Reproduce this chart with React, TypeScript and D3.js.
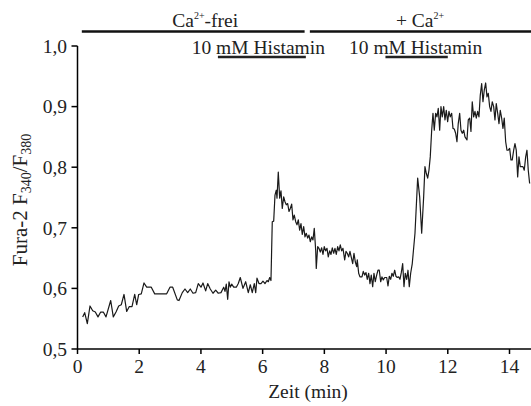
import React from "react";
import * as d3 from "d3";

// Fura-2 ratio trace (time in min, ratio F340/F380)
const times = [
  0.168, 0.233, 0.318, 0.405, 0.493, 0.577, 0.664, 0.752, 0.836, 0.924,
  1.076, 1.160, 1.248, 1.335, 1.419, 1.507, 1.594, 1.679, 1.766, 1.854,
  1.918, 1.983, 2.067, 2.155, 2.242, 2.391, 2.502, 2.890, 2.997, 3.085,
  3.234, 3.289, 3.396, 3.483, 3.571, 3.655, 3.743, 3.830, 3.914, 4.002,
  4.067, 4.154, 4.219, 4.303, 4.391, 4.478, 4.563, 4.650, 4.738, 4.780,
  4.822, 4.867, 4.909, 4.951, 4.997, 5.062, 5.146, 5.211, 5.275, 5.363,
  5.450, 5.535, 5.600, 5.664, 5.729, 5.775, 5.817, 5.881, 5.946, 6.011,
  6.076, 6.141, 6.183, 6.228, 6.270, 6.312, 6.358, 6.400, 6.442, 6.465,
  6.507, 6.552, 6.594, 6.636, 6.682, 6.724, 6.766, 6.811, 6.854, 6.896,
  6.941, 6.983, 7.025, 7.071, 7.113, 7.155, 7.200, 7.242, 7.285, 7.330,
  7.372, 7.414, 7.460, 7.502, 7.544, 7.589, 7.631, 7.673, 7.719, 7.738,
  7.784, 7.826, 7.868, 7.913, 7.955, 7.997, 8.043, 8.085, 8.127, 8.172,
  8.215, 8.257, 8.302, 8.344, 8.386, 8.432, 8.474, 8.516, 8.561, 8.603,
  8.659, 8.701, 8.743, 8.788, 8.830, 8.873, 8.918, 8.960, 9.002, 9.047,
  9.067, 9.112, 9.154, 9.219, 9.261, 9.307, 9.349, 9.391, 9.436, 9.478,
  9.520, 9.566, 9.608, 9.650, 9.695, 9.738, 9.780, 9.825, 9.867, 9.909,
  9.955, 10.020, 10.062, 10.104, 10.149, 10.191, 10.233, 10.279, 10.321, 10.363,
  10.408, 10.450, 10.493, 10.538, 10.580, 10.622, 10.668, 10.710, 10.752, 10.797,
  10.849, 10.937, 11.024, 11.089, 11.154, 11.218, 11.260, 11.303, 11.348, 11.390,
  11.432, 11.478, 11.520, 11.562, 11.607, 11.649, 11.692, 11.737, 11.779, 11.821,
  11.867, 11.909, 11.951, 11.996, 12.038, 12.080, 12.126, 12.168, 12.210, 12.255,
  12.297, 12.339, 12.385, 12.427, 12.469, 12.515, 12.557, 12.622, 12.664, 12.709,
  12.751, 12.793, 12.839, 12.881, 12.923, 12.968, 13.010, 13.053, 13.098, 13.140,
  13.182, 13.228, 13.270, 13.312, 13.357, 13.399, 13.441, 13.487, 13.529, 13.571,
  13.617, 13.659, 13.701, 13.746, 13.788, 13.830, 13.876, 13.918, 13.960, 14.005,
  14.047, 14.089, 14.135, 14.177, 14.219, 14.265, 14.307, 14.349, 14.394, 14.436,
  14.478, 14.524, 14.566, 14.608, 14.653,
];

const ratio = [
  0.553, 0.560, 0.542, 0.571, 0.563, 0.561, 0.553, 0.561, 0.561, 0.553,
  0.580, 0.553, 0.561, 0.571, 0.573, 0.590, 0.562, 0.570, 0.570, 0.590,
  0.573, 0.590, 0.591, 0.609, 0.602, 0.602, 0.591, 0.591, 0.602, 0.602,
  0.581, 0.580, 0.593, 0.599, 0.593, 0.599, 0.592, 0.593, 0.608, 0.602,
  0.609, 0.596, 0.608, 0.599, 0.592, 0.597, 0.592, 0.593, 0.602, 0.595,
  0.607, 0.582, 0.611, 0.602, 0.607, 0.602, 0.602, 0.608, 0.618, 0.600,
  0.611, 0.593, 0.606, 0.593, 0.608, 0.593, 0.617, 0.608, 0.608, 0.612,
  0.608, 0.613, 0.611, 0.618, 0.613, 0.710, 0.711, 0.754, 0.762, 0.749,
  0.792, 0.749, 0.761, 0.732, 0.751, 0.743, 0.738, 0.740, 0.727, 0.732,
  0.739, 0.713, 0.721, 0.710, 0.705, 0.713, 0.696, 0.707, 0.689, 0.702,
  0.685, 0.691, 0.683, 0.688, 0.677, 0.685, 0.680, 0.699, 0.663, 0.633,
  0.669, 0.666, 0.660, 0.667, 0.656, 0.669, 0.662, 0.666, 0.652, 0.662,
  0.656, 0.667, 0.658, 0.666, 0.656, 0.669, 0.662, 0.672, 0.662, 0.666,
  0.647, 0.661, 0.658, 0.652, 0.661, 0.651, 0.641, 0.658, 0.644, 0.636,
  0.647, 0.625, 0.619, 0.619, 0.628, 0.622, 0.626, 0.615, 0.625, 0.608,
  0.622, 0.603, 0.625, 0.611, 0.622, 0.630, 0.630, 0.611, 0.619, 0.614,
  0.618, 0.618, 0.604, 0.620, 0.615, 0.625, 0.620, 0.630, 0.620, 0.618,
  0.619, 0.615, 0.626, 0.641, 0.603, 0.625, 0.615, 0.630, 0.603, 0.625,
  0.641, 0.691, 0.782, 0.751, 0.691, 0.751, 0.801, 0.790, 0.782, 0.795,
  0.817, 0.861, 0.889, 0.861, 0.889, 0.883, 0.897, 0.861, 0.900, 0.883,
  0.900, 0.878, 0.894, 0.875, 0.892, 0.883, 0.889, 0.864, 0.863, 0.856,
  0.842, 0.872, 0.889, 0.861, 0.856, 0.861, 0.850, 0.845, 0.878, 0.881,
  0.859, 0.908, 0.883, 0.892, 0.881, 0.892, 0.883, 0.919, 0.938, 0.908,
  0.927, 0.939, 0.916, 0.922, 0.900, 0.892, 0.908, 0.900, 0.878, 0.905,
  0.889, 0.872, 0.894, 0.881, 0.864, 0.881, 0.842, 0.828, 0.828, 0.831,
  0.812, 0.812, 0.828, 0.839, 0.828, 0.784, 0.817, 0.801, 0.801, 0.801,
  0.795, 0.817, 0.828, 0.795, 0.773,
];

const xTicks = [0, 2, 4, 6, 8, 10, 12, 14];
const xTickLabels = ["0", "2", "4", "6", "8", "10", "12", "14"];
const yTicks = [0.5, 0.6, 0.7, 0.8, 0.9, 1.0];
const yTickLabels = ["0,5", "0,6", "0,7", "0,8", "0,9", "1,0"];

// Phases (top bars): Ca2+-free, then + Ca2+
const phaseStart = [0.14, 7.53];
const phaseEnd = [7.36, 14.8];
const phaseLabelAt = [4.14, 11.1];
const phaseLabelMain = ["Ca", "+ Ca"];
const phaseLabelSup = ["2+", "2+"];
const phaseLabelTail = ["-frei", ""];

// Histamine applications
const histStart = [4.55, 9.98];
const histEnd = [7.4, 12.0];
const histLabelAt = [3.7, 8.8];
const histLabel = ["10 mM Histamin", "10 mM Histamin"];

const W = 531;
const H = 406;
const FONT = "Liberation Serif, Times New Roman, serif";
const FS = 19.5;

export default function App() {
  const x = d3.scaleLinear().domain([0, 14]).range([77.5, 509.5]);
  const y = d3.scaleLinear().domain([0.5, 1.0]).range([349, 46]);
  const pts = times.map((t, i) => [t, ratio[i]] as [number, number]);
  const line = d3
    .line<[number, number]>()
    .x((d) => x(d[0]))
    .y((d) => y(d[1]));

  const x0 = x(0);
  const yBase = y(0.5);
  const ts = { fontFamily: FONT };

  return (
    <svg
      width={W}
      height={H}
      style={{ position: "absolute", left: 0, top: 0, background: "#fff", fontFamily: FONT }}
    >
      {/* trace */}
      <path d={line(pts) || ""} fill="none" stroke="#1a1a1a" strokeWidth={1.2} strokeLinejoin="round" />

      {/* y axis */}
      <line x1={x0} x2={x0} y1={y(1.0)} y2={yBase} stroke="#000" strokeWidth={1.5} />
      {yTicks.map((v, i) => (
        <g key={"yt" + i}>
          <line x1={x0 - 6} x2={x0} y1={y(v)} y2={y(v)} stroke="#000" strokeWidth={1.5} />
          <text x={67} y={y(v)} dy="0.35em" textAnchor="end" fontSize={FS} fill="#222" style={ts}>
            {yTickLabels[i]}
          </text>
        </g>
      ))}

      {/* x axis */}
      <line x1={x0} x2={W} y1={yBase} y2={yBase} stroke="#000" strokeWidth={1.5} />
      {xTicks.map((t, i) => (
        <g key={"xt" + i}>
          <line x1={x(t)} x2={x(t)} y1={yBase} y2={yBase + 5} stroke="#000" strokeWidth={1.5} />
          <text x={x(t)} y={373} textAnchor="middle" fontSize={FS} fill="#222" style={ts}>
            {xTickLabels[i]}
          </text>
        </g>
      ))}
      <text x={308} y={398} textAnchor="middle" fontSize={FS} fill="#222" style={ts}>
        Zeit (min)
      </text>

      {/* y label */}
      <text
        transform={`translate(27,${200}) rotate(-90)`}
        textAnchor="middle"
        fontSize={21}
        fill="#222"
        style={ts}
      >
        Fura-2 F<tspan fontSize={14} dy={4}>340</tspan>
        <tspan dy={-4}>/F</tspan>
        <tspan fontSize={14} dy={4}>380</tspan>
      </text>

      {/* phase bars */}
      {phaseStart.map((s, i) => (
        <g key={"ph" + i}>
          <line x1={x(s)} x2={Math.min(x(phaseEnd[i]), W)} y1={31.5} y2={31.5} stroke="#111" strokeWidth={2.6} />
          <text x={x(phaseLabelAt[i])} y={27} textAnchor="middle" fontSize={FS} fill="#222" style={ts}>
            {phaseLabelMain[i]}
            <tspan fontSize={10} dy={-8}>{phaseLabelSup[i]}</tspan>
            <tspan dy={8}>{phaseLabelTail[i]}</tspan>
          </text>
        </g>
      ))}

      {/* histamine bars */}
      {histStart.map((s, i) => (
        <g key={"hi" + i}>
          <text x={x(histLabelAt[i])} y={54} textAnchor="start" fontSize={FS} fill="#222" style={ts}>
            {histLabel[i]}
          </text>
          <line x1={x(s)} x2={x(histEnd[i])} y1={57} y2={57} stroke="#222" strokeWidth={2.6} />
        </g>
      ))}
    </svg>
  );
}
